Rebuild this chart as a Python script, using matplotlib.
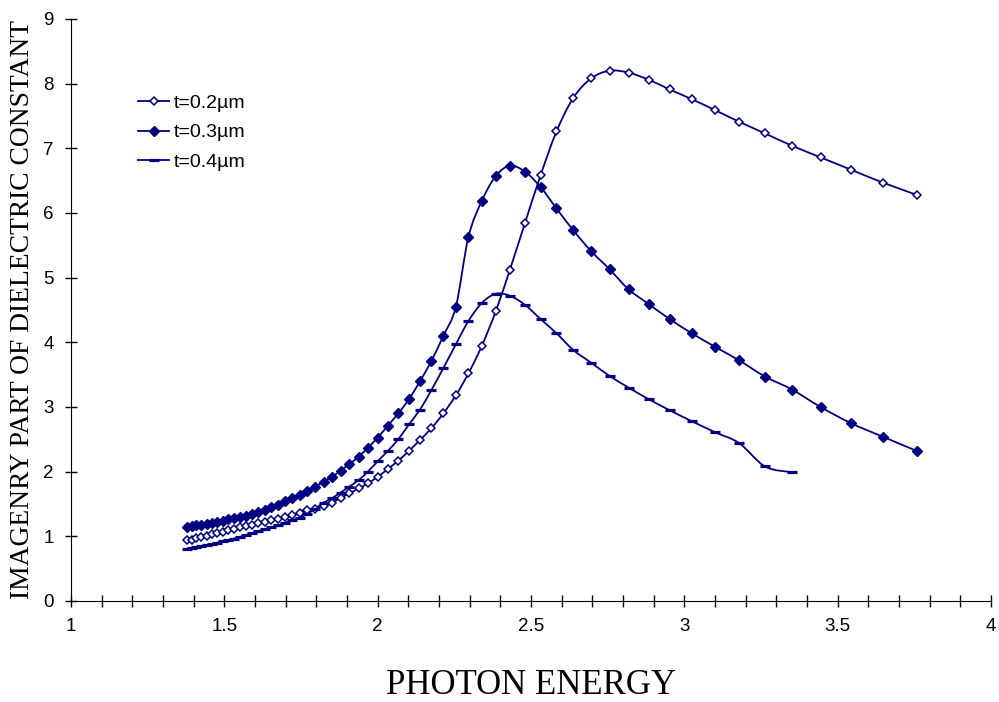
import numpy as np
import matplotlib
matplotlib.use('Agg')
import matplotlib.pyplot as plt
from matplotlib.path import Path
from matplotlib.patches import PathPatch
from matplotlib.lines import Line2D

plt.rcParams['font.family'] = 'Liberation Sans'

# photon energy (eV)
energy = [1.378, 1.393, 1.409, 1.425, 1.442, 1.459, 1.476, 1.494, 1.512, 1.531,
          1.550, 1.570, 1.590, 1.610, 1.632, 1.653, 1.676, 1.699, 1.722, 1.746,
          1.771, 1.797, 1.824, 1.851, 1.879, 1.908, 1.938, 1.968, 2.000, 2.033,
          2.067, 2.102, 2.138, 2.175, 2.214, 2.255, 2.296, 2.340, 2.385, 2.431,
          2.480, 2.531, 2.583, 2.638, 2.696, 2.756, 2.818, 2.884, 2.952, 3.024,
          3.100, 3.179, 3.263, 3.351, 3.444, 3.543, 3.647, 3.758]

eps_02 = [0.94, 0.95, 0.97, 0.99, 1.01, 1.03, 1.05, 1.07, 1.09, 1.11,
          1.14, 1.16, 1.18, 1.20, 1.22, 1.25, 1.27, 1.30, 1.33, 1.36,
          1.40, 1.43, 1.47, 1.52, 1.59, 1.665, 1.74, 1.82, 1.92, 2.04,
          2.17, 2.32, 2.49, 2.67, 2.90, 3.18, 3.52, 3.95, 4.48, 5.12,
          5.84, 6.58, 7.26, 7.78, 8.08, 8.20, 8.17, 8.06, 7.91, 7.76,
          7.59, 7.41, 7.23, 7.04, 6.86, 6.67, 6.47, 6.28]

eps_03 = [1.15, 1.16, 1.17, 1.18, 1.19, 1.21, 1.22, 1.24, 1.26, 1.28,
          1.30, 1.32, 1.35, 1.38, 1.41, 1.45, 1.49, 1.54, 1.59, 1.64,
          1.70, 1.77, 1.845, 1.92, 2.015, 2.12, 2.23, 2.37, 2.525, 2.71,
          2.90, 3.12, 3.40, 3.71, 4.10, 4.55, 5.63, 6.19, 6.57, 6.73,
          6.64, 6.40, 6.07, 5.73, 5.41, 5.13, 4.82, 4.59, 4.36, 4.14,
          3.93, 3.72, 3.47, 3.27, 3.00, 2.75, 2.54, 2.32]

# t=0.4 stops at 3.351 eV
eps_04 = [0.81, 0.82, 0.83, 0.845, 0.86, 0.88, 0.90, 0.92, 0.94, 0.965,
          0.99, 1.02, 1.05, 1.08, 1.11, 1.14, 1.17, 1.21, 1.25, 1.29,
          1.35, 1.43, 1.52, 1.59, 1.675, 1.77, 1.87, 2.00, 2.16, 2.32,
          2.50, 2.73, 2.96, 3.26, 3.60, 3.97, 4.33, 4.61, 4.75, 4.72,
          4.58, 4.36, 4.14, 3.88, 3.685, 3.48, 3.30, 3.12, 2.95, 2.78,
          2.61, 2.44, 2.08, 1.99]

labels = ['t=0.2\u00b5m', 't=0.3\u00b5m', 't=0.4\u00b5m']
xtick_values = [1, 1.5, 2, 2.5, 3, 3.5, 4]
xtick_labels = ['1', '1.5', '2', '2.5', '3', '3.5', '4']
ytick_values = [0, 1, 2, 3, 4, 5, 6, 7, 8, 9]

navy = '#000080'


def smooth_path(x, y):
    # Excel-like smoothed line: Catmull-Rom segments as cubic Bezier curves
    p = np.column_stack([x, y])
    n = len(p)
    verts = [p[0]]
    codes = [Path.MOVETO]
    for i in range(n - 1):
        p0 = p[i - 1] if i > 0 else p[i]
        p3 = p[i + 2] if i + 2 < n else p[i + 1]
        c1 = p[i] + (p[i + 1] - p0) / 6.0
        c2 = p[i + 1] - (p3 - p[i]) / 6.0
        verts += [c1, c2, p[i + 1]]
        codes += [Path.CURVE4] * 3
    return Path(verts, codes)


fig = plt.figure(figsize=(9.99, 7.02), dpi=100)
ax = fig.add_axes([0.0711, 0.1439, 0.9209, 0.8291])

series = [
    (energy, eps_02, dict(marker='D', ms=4.0, mfc='white', mec=navy, mew=1.1)),
    (energy, eps_03, dict(marker='D', ms=4.8, mfc=navy, mec=navy, mew=1.0)),
    (energy[:len(eps_04)], eps_04, dict(marker='_', ms=7, mec=navy, mew=2.3)),
]

handles = []
for (x, y, mstyle), lab in zip(series, labels):
    ax.add_patch(PathPatch(smooth_path(x, y), fill=False, edgecolor=navy, lw=1.3, zorder=2))
    ax.plot(x, y, ls='none', zorder=3, **mstyle)
    handles.append(Line2D([], [], color=navy, lw=1.3, **mstyle))

ax.set_xlim(1, 4)
ax.set_ylim(0, 9)
ax.set_xticks(xtick_values)
ax.set_xticklabels(xtick_labels)
ax.set_xticks(np.arange(1.1, 4.0, 0.1), minor=True)
ax.set_yticks(ytick_values)
ax.tick_params(axis='both', which='major', direction='inout', length=9, width=1,
               labelsize=13.5, pad=8)
ax.tick_params(axis='x', which='minor', direction='inout', length=8, width=1)
for s in ['top', 'right']:
    ax.spines[s].set_visible(False)

ax.set_xlabel('PHOTON ENERGY', fontfamily='Liberation Serif', fontsize=25, labelpad=24)
ax.set_ylabel('IMAGENRY PART OF DIELECTRIC CONSTANT', fontfamily='Liberation Serif',
              fontsize=19.8, labelpad=6)

ax.legend(handles, labels, loc='upper left', bbox_to_anchor=(0.0728, 0.871),
          frameon=False, fontsize=14, handlelength=1.6, handletextpad=0.25,
          labelspacing=0.62, borderpad=0, borderaxespad=0)

fig.savefig('out.png', dpi=100)
